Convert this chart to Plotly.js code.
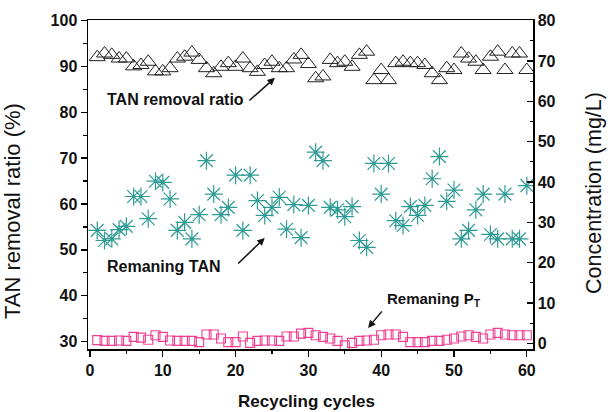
<!DOCTYPE html>
<html>
<head>
<meta charset="utf-8">
<script src="https://cdn.plot.ly/plotly-3.0.1.min.js"></script>
<style>html,body{margin:0;padding:0;background:#fff;}#chart{width:608px;height:412px;}</style>
</head>
<body>
<div id="chart"></div>
<script>
// Recycling cycle number
const cycles = [1,2,3,4,5,6,7,8,9,10,11,12,13,14,15,16,17,18,19,20,
  21,22,23,24,25,26,27,28,29,30,31,32,33,34,35,36,37,38,39,40,
  41,42,43,44,45,46,47,48,49,50,51,52,53,54,55,56,57,58,59,60];

// TAN removal ratio (%), left axis
const tanRemoval = [92.0,92.8,92.5,91.7,91.7,90.0,90.3,91.0,88.9,88.9,
  89.6,91.7,92.1,93.0,91.4,89.6,88.5,89.9,90.7,89.9,
  91.7,89.6,88.8,90.3,91.0,89.6,89.6,91.5,92.5,90.5,
  87.4,87.8,91.4,90.7,91.0,89.9,92.5,93.2,87.0,89.2,
  87.0,90.7,91.0,90.7,90.7,90.3,88.5,87.0,89.6,89.2,
  92.8,91.7,91.0,89.2,92.1,93.2,89.2,92.8,92.8,89.2];

// Remaining TAN (mg/L), right axis
const remainTAN = [28.0,25.5,25.9,28.2,29.0,36.4,36.4,30.9,40.2,39.9,
  35.8,28.0,30.0,25.9,31.9,45.3,37.0,31.9,33.7,41.7,
  28.0,41.7,35.4,31.7,33.7,36.2,28.3,34.4,26.2,34.2,
  47.4,45.3,33.7,33.1,31.4,33.9,25.5,23.8,44.6,37.0,
  44.6,30.4,29.2,33.9,31.7,34.2,40.8,46.3,35.2,38.0,
  25.9,28.0,33.1,37.0,27.0,25.9,37.0,25.9,25.9,39.1];

// Remaining P_T (mg/L), right axis
const remainPT = [0.8,0.6,0.6,0.7,0.6,1.6,1.4,0.9,2.0,1.6,
  0.7,0.6,0.6,0.6,0.3,2.2,2.2,1.2,0.3,0.3,
  1.7,0.1,0.6,0.7,0.7,0.6,1.7,1.7,2.4,2.6,
  2.0,1.6,1.2,0.6,-0.5,0.1,0.6,0.7,0.9,2.0,
  2.2,2.2,1.6,0.3,0.3,0.3,0.6,0.6,0.9,1.2,
  1.7,2.0,1.6,1.2,2.2,2.6,2.2,2.0,2.0,2.0];

const xTickVals = [0,10,20,30,40,50,60];
const yTickVals = [30,40,50,60,70,80,90,100];
const y2TickVals = [0,10,20,30,40,50,60,70,80];

const FONT = 'Liberation Sans, Arial, Helvetica, sans-serif';

const traces = [
  {x: cycles, y: tanRemoval, type: 'scatter', mode: 'markers', yaxis: 'y',
   marker: {symbol: 'triangle-up-open', size: 14, color: '#222', line: {width: 1, color: '#222'}}},
  {x: cycles, y: remainTAN, type: 'scatter', mode: 'markers', yaxis: 'y2',
   marker: {symbol: 'asterisk-open', size: 15, color: '#2e9b95', line: {width: 1.2, color: '#2e9b95'}}},
  {x: cycles, y: remainPT, type: 'scatter', mode: 'markers', yaxis: 'y2',
   marker: {symbol: 'square-open', size: 9, color: '#ec3f93', line: {width: 1.1, color: '#ec3f93'}}}
];

const tickfont = {family: FONT, size: 16, weight: 'bold', color: '#111'};

const layout = {
  width: 608, height: 412,
  margin: {l: 88, r: 75, t: 20, b: 63},
  paper_bgcolor: '#fff', plot_bgcolor: '#fff',
  showlegend: false,
  xaxis: {range: [-0.27, 60.85], tickvals: xTickVals, ticks: 'outside', ticklen: 6, tickwidth: 1.3,
    tickcolor: '#000', showline: true, linecolor: '#000', linewidth: 1.5, mirror: true,
    showgrid: false, zeroline: false, tickfont: tickfont,
    minor: {dtick: 5, tick0: 0, ticks: 'outside', ticklen: 3.5, tickcolor: '#000', tickwidth: 1.2, showgrid: false}},
  yaxis: {range: [28.4, 100.1], tickvals: yTickVals, ticks: 'outside', ticklen: 6, tickwidth: 1.3,
    tickcolor: '#000', showline: true, linecolor: '#000', linewidth: 1.5,
    showgrid: false, zeroline: false, tickfont: tickfont,
    minor: {dtick: 5, tick0: 30, ticks: 'outside', ticklen: 3.5, tickcolor: '#000', tickwidth: 1.2, showgrid: false}},
  yaxis2: {range: [-1.41, 80.17], tickvals: y2TickVals, overlaying: 'y', side: 'right',
    ticks: 'inside', ticklen: 6, tickwidth: 1.3, tickcolor: '#000',
    showline: true, linecolor: '#000', linewidth: 1.5,
    showgrid: false, zeroline: false, tickfont: tickfont,
    minor: {dtick: 5, tick0: 0, ticks: 'inside', ticklen: 3.5, tickcolor: '#000', tickwidth: 1.2, showgrid: false}},
  annotations: [
    {xref: 'paper', yref: 'paper', x: -0.168, y: 0.42, text: 'TAN removal ratio (%)', textangle: -90,
     showarrow: false, font: {family: FONT, size: 22, color: '#111'}, xanchor: 'center', yanchor: 'middle'},
    {xref: 'paper', yref: 'paper', x: 1.137, y: 0.474, text: 'Concentration (mg/L)', textangle: -90,
     showarrow: false, font: {family: FONT, size: 21.5, color: '#111'}, xanchor: 'center', yanchor: 'middle'},
    {xref: 'paper', yref: 'paper', x: 0.49, y: -0.16, text: 'Recycling cycles',
     showarrow: false, font: {family: FONT, size: 17, weight: 'bold', color: '#111'}, xanchor: 'center', yanchor: 'middle'},
    {xref: 'x', yref: 'y', x: 2.06, y: 82.7, text: 'TAN removal ratio', showarrow: false, xanchor: 'left', yanchor: 'middle',
     font: {family: FONT, size: 16, weight: 'bold', color: '#111'}},
    {xref: 'x', yref: 'y', x: 2.06, y: 46.3, text: 'Remaning TAN', showarrow: false, xanchor: 'left', yanchor: 'middle',
     font: {family: FONT, size: 16, weight: 'bold', color: '#111'}},
    {xref: 'x', yref: 'y', x: 40.5, y: 39.1, text: 'Remaning P<sub>T</sub>', showarrow: false, xanchor: 'left', yanchor: 'middle',
     font: {family: FONT, size: 15, weight: 'bold', color: '#111'}},
    {xref: 'x', yref: 'y', x: 25.4, y: 87.5, text: '', showarrow: true, ax: -27, ay: 24,
     arrowhead: 2, arrowsize: 1, arrowwidth: 1.5, arrowcolor: '#111'},
    {xref: 'x', yref: 'y', x: 24.0, y: 52.6, text: '', showarrow: true, ax: -28, ay: 27,
     arrowhead: 2, arrowsize: 1, arrowwidth: 1.5, arrowcolor: '#111'},
    {xref: 'x', yref: 'y', x: 38.2, y: 33.0, text: '', showarrow: true, ax: 15, ay: -18,
     arrowhead: 2, arrowsize: 1, arrowwidth: 1.5, arrowcolor: '#111'}
  ]
};

Plotly.newPlot('chart', traces, layout, {staticPlot: true, displayModeBar: false});
</script>
</body>
</html>
